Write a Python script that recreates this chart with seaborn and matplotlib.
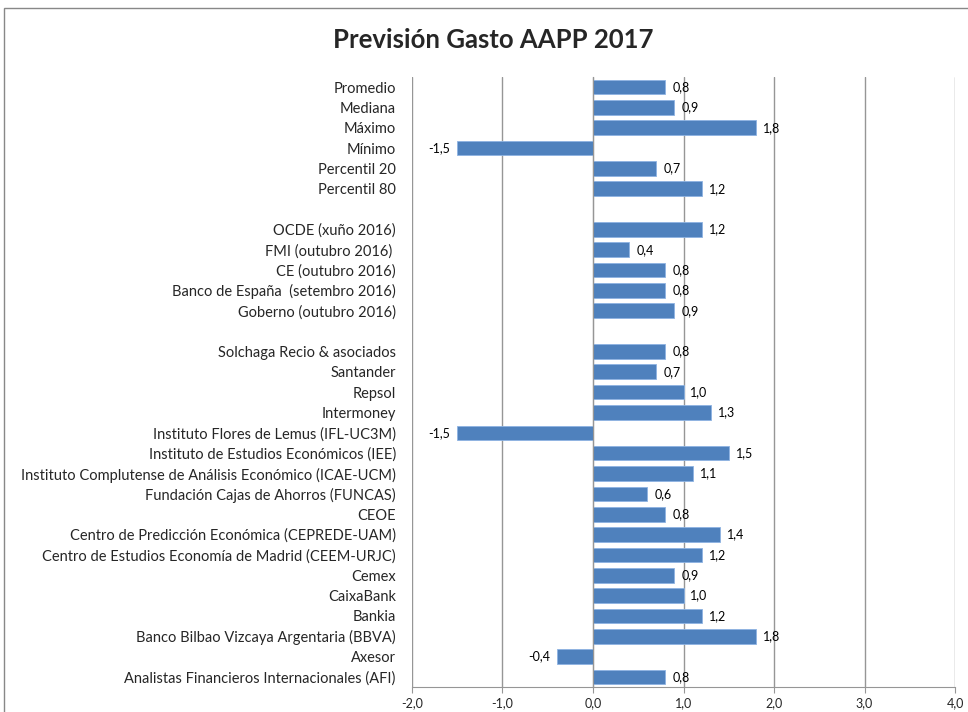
import matplotlib
matplotlib.use("Agg")
import matplotlib.pyplot as plt
import seaborn as sns
import pandas as pd
from matplotlib.patches import Rectangle

# datos (de arriba abajo)
categorias = [
    "Promedio", "Mediana", "Máximo", "Mínimo", "Percentil 20", "Percentil 80",
    "OCDE (xuño 2016)", "FMI (outubro 2016) ", "CE (outubro 2016)",
    "Banco de España  (setembro 2016)", "Goberno (outubro 2016)",
    "Solchaga Recio & asociados", "Santander", "Repsol", "Intermoney",
    "Instituto Flores de Lemus (IFL-UC3M)",
    "Instituto de Estudios Económicos (IEE)",
    "Instituto Complutense de Análisis Económico (ICAE-UCM)",
    "Fundación Cajas de Ahorros (FUNCAS)", "CEOE",
    "Centro de Predicción Económica (CEPREDE-UAM)",
    "Centro de Estudios Economía de Madrid (CEEM-URJC)",
    "Cemex", "CaixaBank", "Bankia",
    "Banco Bilbao Vizcaya Argentaria (BBVA)", "Axesor",
    "Analistas Financieros Internacionales (AFI)",
]
valores = [
    0.8, 0.9, 1.8, -1.5, 0.7, 1.2,
    1.2, 0.4, 0.8, 0.8, 0.9,
    0.8, 0.7, 1.0, 1.3, -1.5, 1.5, 1.1, 0.6, 0.8, 1.4, 1.2,
    0.9, 1.0, 1.2, 1.8, -0.4, 0.8,
]
# filas en blanco entre grupos
orden = categorias[:6] + [" "] + categorias[6:11] + ["  "] + categorias[11:]
ticks_x = [-2, -1, 0, 1, 2, 3, 4]

df = pd.DataFrame({"entidade": categorias, "valor": valores})

sns.set_style("white")
plt.rcParams['font.family'] = ['Lato', 'DejaVu Sans']

fig = plt.figure(figsize=(9.68, 7.12), dpi=100)
ax = fig.add_axes([0.4256, 0.035, 0.561, 0.857])

sns.barplot(data=df, x="valor", y="entidade", order=orden, orient="h",
            color="#4F81BD", saturation=1, width=0.72,
            edgecolor="#8DB3E2", linewidth=0.6, ax=ax)

ax.bar_label(ax.containers[0], fmt=lambda v: f"{v:.1f}".replace(".", ","),
             padding=5, fontsize=9, color="#000000")

ax.set_xlim(-2, 4)
ax.set_xticks(ticks_x)
ax.set_xticklabels([f"{t:.1f}".replace(".", ",") for t in ticks_x], fontsize=9)
ax.grid(axis="x", color="#969696", linewidth=1)
ax.set_axisbelow(True)
ax.set_xlabel("")
ax.set_ylabel("")

# eixo vertical no 0
for s in ["top", "right"]:
    ax.spines[s].set_visible(False)
ax.spines["left"].set_position(("data", 0))
ax.spines["left"].set_color("#969696")
ax.spines["bottom"].set_color("#969696")
ax.tick_params(axis="y", which="major", length=0, pad=142, labelsize=10.5)
ax.set_yticks([i + 0.5 for i in range(-1, len(orden))], minor=True)
ax.tick_params(axis="y", which="minor", length=4, direction="out", color="#969696")
ax.tick_params(axis="x", length=4, direction="out", color="#969696", bottom=True)

fig.text(0.51, 0.944, "Previsión Gasto AAPP 2017", ha="center", va="center",
         fontsize=18.5, fontweight="bold")

# marco do gráfico
fig.patches.append(Rectangle((4 / 968, -0.1), 2, 1.1 - 8 / 712, transform=fig.transFigure,
                             fill=False, edgecolor="#888888", linewidth=1))

fig.savefig("out.png", dpi=100)
